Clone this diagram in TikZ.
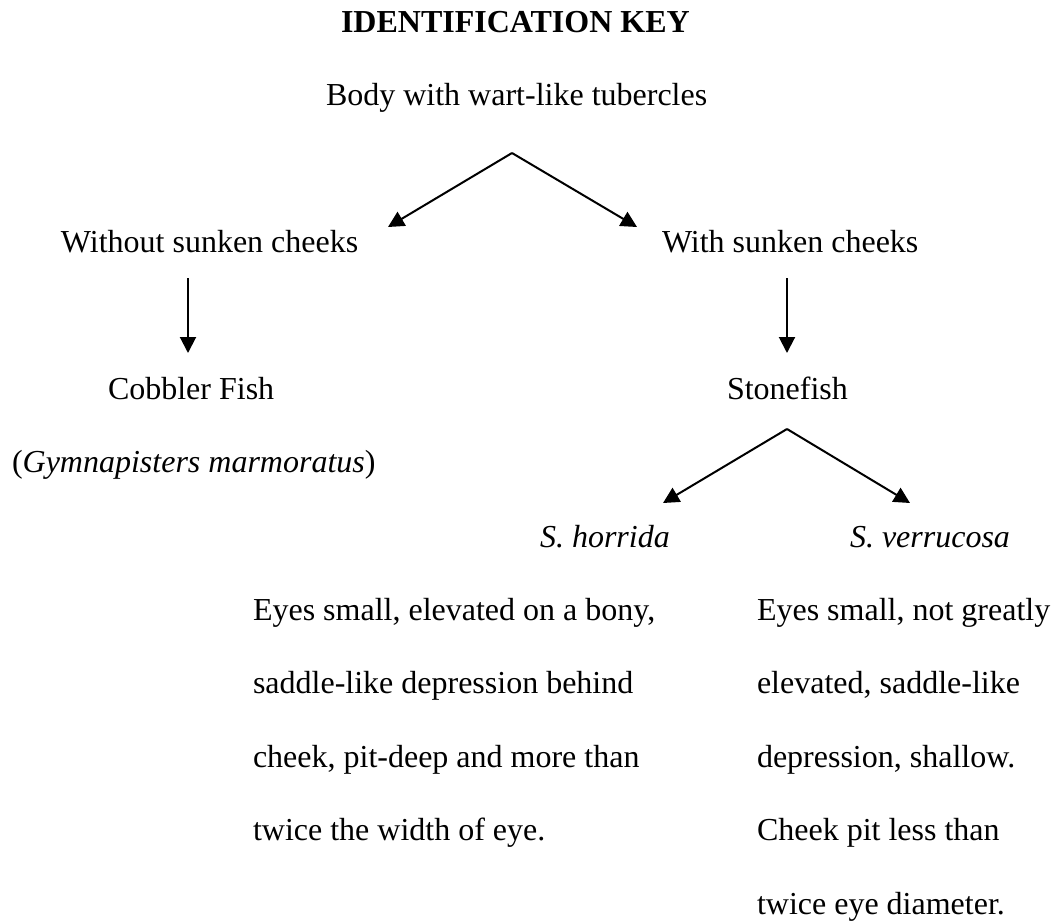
\documentclass[tikz,border=0pt]{standalone}
\usepackage{fontspec}
\setmainfont{Liberation Serif}
\usetikzlibrary{arrows.meta}
\begin{document}
\begin{tikzpicture}[x=0.5pt,y=-0.5pt,
  lbl/.style={anchor=base west,inner sep=0pt,outer sep=0pt,font=\fontsize{16}{19}\selectfont},
  arr/.style={line width=1pt,-{Triangle[length=8pt,width=8pt]}}]
\useasboundingbox[fill=white] (0,0) rectangle (1055,922);
% title and root
\node[lbl,font=\fontsize{16}{19}\selectfont\bfseries] (title) at (341,32) {IDENTIFICATION KEY};
\node[lbl] (body) at (326,105.5) {Body with wart-like tubercles};
% first fork
\coordinate (f1) at (512,153);
\coordinate (f1l) at (388,227);
\coordinate (f1r) at (637,227);
\draw[arr] (f1) -- (f1l);
\draw[arr] (f1) -- (f1r);
\node[lbl] (without) at (61,252) {Without sunken cheeks};
\node[lbl] (with) at (662,252) {With sunken cheeks};
% vertical arrows
\coordinate (vl1) at (188,278);
\coordinate (vl2) at (188,353);
\coordinate (vr1) at (787,278);
\coordinate (vr2) at (787,353);
\draw[arr] (vl1) -- (vl2);
\draw[arr] (vr1) -- (vr2);
\node[lbl] (cobbler) at (108,399) {Cobbler Fish};
\node[lbl] (gymno) at (12,472) {(\textit{Gymnapisters marmoratus})};
\node[lbl] (stone) at (727,399) {Stonefish};
% second fork
\coordinate (f2) at (787,429);
\coordinate (f2l) at (663,503);
\coordinate (f2r) at (910,503);
\draw[arr] (f2) -- (f2l);
\draw[arr] (f2) -- (f2r);
\node[lbl,font=\fontsize{16}{19}\selectfont\itshape] (horrida) at (540,547) {S. horrida};
\node[lbl,font=\fontsize{16}{19}\selectfont\itshape] (verrucosa) at (850,547) {S. verrucosa};
% descriptions
\node[lbl] (h1) at (253,620) {Eyes small, elevated on a bony,};
\node[lbl] (h2) at (253,693.5) {saddle-like depression behind};
\node[lbl] (h3) at (253,767) {cheek, pit-deep and more than};
\node[lbl] (h4) at (253,840.5) {twice the width of eye.};
\node[lbl] (v1) at (757,620) {Eyes small, not greatly};
\node[lbl] (v2) at (757,693.5) {elevated, saddle-like};
\node[lbl] (v3) at (757,767) {depression, shallow.};
\node[lbl] (v4) at (757,840.5) {Cheek pit less than};
\node[lbl] (v5) at (757,914) {twice eye diameter.};
\end{tikzpicture}
\end{document}
